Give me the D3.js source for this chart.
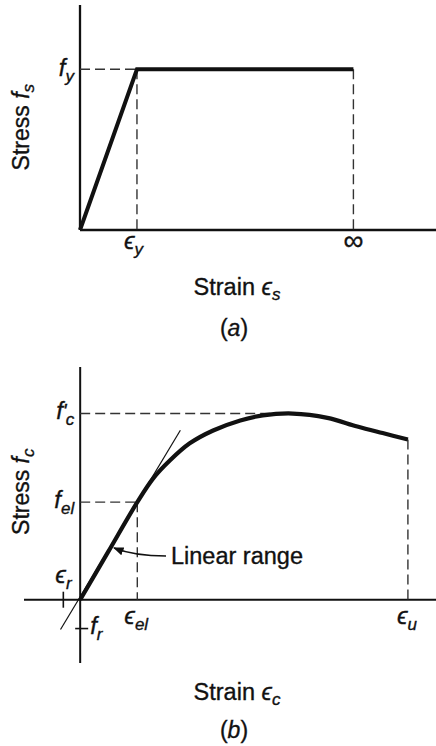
<!DOCTYPE html>
<html><head><meta charset="utf-8">
<script src="https://cdn.jsdelivr.net/npm/d3@7"></script>
<style>
html,body{margin:0;padding:0;background:#fff;}
svg{display:block;font-family:"Liberation Sans",Arial,Helvetica,sans-serif;}
text{stroke:#111;stroke-width:0.35px;}
</style></head>
<body>
<svg id="chart" width="436" height="746"></svg>
<script>
// ---------- Data (a): elastic-perfectly-plastic steel (stress normalized by fy, strain by εy) ----------
const steelStrain = [0, 1, 4.8];      // 0, εy, "∞"
const steelStress = [0, 1, 1];
const steelTickLabels = ["ϵ", "∞"];   // at εy and ∞
// ---------- Data (b): concrete (stress normalized by f'c, strain in ‰) ----------
const concStrain = [0, 0.3, 0.61, 0.78, 0.96, 1.17, 1.42, 1.71, 1.95, 2.27, 2.64, 2.96, 3.23, 3.5];
const concStress = [0, 0.258, 0.524, 0.652, 0.749, 0.840, 0.909, 0.963, 0.990, 1.0, 0.977, 0.930, 0.895, 0.861];
const tangentStrain = [-0.21, 1.07];
const tangentStress = [-0.16, 0.91];
const eEl = 0.61, fEl = 0.524, fcPeak = 1.0, eU = 3.5, eR = -0.18, fR = -0.155, eUStress = 0.861;

const svg = d3.select("#chart");
const ink = "#111";

function sub(textSel, main, subTxt) {
  textSel.append("tspan").text(main).attr("font-style", "italic");
  textSel.append("tspan").text(subTxt).attr("font-style", "italic")
    .attr("font-size", 17).attr("dy", 6);
}

// =================== Panel (a) ===================
const xa = d3.scaleLinear().domain([0, 6.25]).range([80, 436]);
const ya = d3.scaleLinear().domain([0, 1.4]).range([230, 5]);
const ga = svg.append("g");

ga.append("line").attr("x1", xa(0)).attr("x2", xa(0)).attr("y1", ya(1.4)).attr("y2", ya(0))
  .attr("stroke", ink).attr("stroke-width", 2.3);
ga.append("line").attr("x1", xa(0)).attr("x2", xa(6.25)).attr("y1", ya(0)).attr("y2", ya(0))
  .attr("stroke", ink).attr("stroke-width", 2.3);
const dashA = [
  [[0, steelStress[1]], [steelStrain[1], steelStress[1]]],
  [[steelStrain[1], steelStress[1]], [steelStrain[1], 0]],
  [[steelStrain[2], steelStress[2]], [steelStrain[2], 0]]
];
dashA.forEach(s => ga.append("line")
  .attr("x1", xa(s[0][0])).attr("y1", ya(s[0][1])).attr("x2", xa(s[1][0])).attr("y2", ya(s[1][1]))
  .attr("stroke", "#333").attr("stroke-width", 1.4).attr("stroke-dasharray", "10,5"));
ga.append("path")
  .datum(steelStrain.map((d, i) => [d, steelStress[i]]))
  .attr("d", d3.line().x(d => xa(d[0])).y(d => ya(d[1])))
  .attr("fill", "none").attr("stroke", ink).attr("stroke-width", 4).attr("stroke-linejoin", "miter");

ga.append("text").attr("transform", `translate(29,${ya(0.64)}) rotate(-90)`)
  .attr("text-anchor", "middle").attr("font-size", 23).attr("fill", ink)
  .call(t => { t.append("tspan").text("Stress "); t.append("tspan").text("f").attr("font-style", "italic");
    t.append("tspan").text("s").attr("font-style", "italic").attr("font-size", 17).attr("dy", 5); });
ga.append("text").attr("x", xa(0) - 6).attr("y", ya(1) + 7).attr("text-anchor", "end")
  .attr("font-size", 24).attr("fill", ink).call(t => sub(t, "f", "y"));
ga.append("text").attr("x", xa(steelStrain[1]) - 13).attr("y", ya(0) + 19)
  .attr("font-size", 24).attr("fill", ink).call(t => sub(t, steelTickLabels[0], "y"));
ga.append("text").attr("x", xa(steelStrain[2])).attr("y", ya(0) + 20).attr("text-anchor", "middle")
  .attr("font-size", 28).attr("fill", ink).text(steelTickLabels[1]);
ga.append("text").attr("x", 237).attr("y", 295).attr("text-anchor", "middle")
  .attr("font-size", 23.5).attr("fill", ink)
  .call(t => { t.append("tspan").text("Strain "); t.append("tspan").text("ϵ").attr("font-style", "italic");
    t.append("tspan").text("s").attr("font-style", "italic").attr("font-size", 17).attr("dy", 5); });
ga.append("text").attr("x", 234).attr("y", 336).attr("text-anchor", "middle")
  .attr("font-size", 23).attr("fill", ink)
  .call(t => { t.append("tspan").text("("); t.append("tspan").text("a").attr("font-style", "italic"); t.append("tspan").text(")"); });

// =================== Panel (b) ===================
const xb = d3.scaleLinear().domain([-0.6, 3.8]).range([24, 436]);
const yb = d3.scaleLinear().domain([-0.34, 1.25]).range([663, 367]);
const gb = svg.append("g");

gb.append("line").attr("x1", xb(0)).attr("x2", xb(0)).attr("y1", yb(1.25)).attr("y2", yb(-0.34))
  .attr("stroke", ink).attr("stroke-width", 2);
gb.append("line").attr("x1", xb(-0.6)).attr("x2", xb(3.8)).attr("y1", yb(0)).attr("y2", yb(0))
  .attr("stroke", ink).attr("stroke-width", 2);
gb.append("line").attr("x1", xb(eR)).attr("x2", xb(eR)).attr("y1", yb(0) - 8).attr("y2", yb(0) + 8)
  .attr("stroke", ink).attr("stroke-width", 1.6);
gb.append("line").attr("x1", xb(0) - 5).attr("x2", xb(0) + 8).attr("y1", yb(fR)).attr("y2", yb(fR))
  .attr("stroke", ink).attr("stroke-width", 1.6);

const dashB = [
  [[0, fcPeak], [concStrain[9], fcPeak]],
  [[0, fEl], [eEl, fEl]],
  [[eEl, fEl], [eEl, 0]],
  [[eU, eUStress], [eU, 0]]
];
dashB.forEach(s => gb.append("line")
  .attr("x1", xb(s[0][0])).attr("y1", yb(s[0][1])).attr("x2", xb(s[1][0])).attr("y2", yb(s[1][1]))
  .attr("stroke", "#333").attr("stroke-width", 1.4).attr("stroke-dasharray", "10,5"));

gb.append("line").attr("x1", xb(tangentStrain[0])).attr("y1", yb(tangentStress[0]))
  .attr("x2", xb(tangentStrain[1])).attr("y2", yb(tangentStress[1]))
  .attr("stroke", ink).attr("stroke-width", 1.2);
gb.append("path")
  .datum(concStrain.map((d, i) => [d, concStress[i]]))
  .attr("d", d3.line().x(d => xb(d[0])).y(d => yb(d[1])).curve(d3.curveCatmullRom.alpha(0.5)))
  .attr("fill", "none").attr("stroke", ink).attr("stroke-width", 4.2).attr("stroke-linecap", "butt");

svg.append("defs").append("marker").attr("id", "ah").attr("viewBox", "0 0 10 10")
  .attr("refX", 9).attr("refY", 5).attr("markerWidth", 7).attr("markerHeight", 7).attr("orient", "auto")
  .append("path").attr("d", "M0,1 L10,5 L0,9 Z").attr("fill", ink);
gb.append("path").attr("d", "M166,556 C150,556 132,555 114,548")
  .attr("fill", "none").attr("stroke", ink).attr("stroke-width", 1.5).attr("marker-end", "url(#ah)");
gb.append("text").attr("x", 171).attr("y", 564).attr("font-size", 23.5).attr("fill", ink).text("Linear range");

gb.append("text").attr("transform", `translate(29,${yb(0.58)}) rotate(-90)`)
  .attr("text-anchor", "middle").attr("font-size", 23).attr("fill", ink)
  .call(t => { t.append("tspan").text("Stress "); t.append("tspan").text("f").attr("font-style", "italic");
    t.append("tspan").text("c").attr("font-style", "italic").attr("font-size", 17).attr("dy", 5); });
// f'c label
gb.append("text").attr("x", xb(0) - 6).attr("y", yb(fcPeak) + 5).attr("text-anchor", "end")
  .attr("font-size", 24).attr("fill", ink)
  .call(t => {
    t.append("tspan").text("f").attr("font-style", "italic");
    t.append("tspan").text("'").attr("font-style", "italic").attr("font-size", 20).attr("dy", -1);
    t.append("tspan").text("c").attr("font-style", "italic").attr("font-size", 17).attr("dx", -1).attr("dy", 7);
  });
gb.append("text").attr("x", xb(0) - 6).attr("y", yb(fEl) + 6).attr("text-anchor", "end")
  .attr("font-size", 24).attr("fill", ink).call(t => sub(t, "f", "el"));
gb.append("text").attr("x", xb(eR) - 8).attr("y", yb(0) - 17)
  .attr("font-size", 24).attr("fill", ink).call(t => sub(t, "ϵ", "r"));
gb.append("text").attr("x", xb(0) + 10).attr("y", yb(fR) + 5)
  .attr("font-size", 24).attr("fill", ink).call(t => sub(t, "f", "r"));
gb.append("text").attr("x", xb(eEl) - 13).attr("y", yb(0) + 24)
  .attr("font-size", 24).attr("fill", ink).call(t => sub(t, "ϵ", "el"));
gb.append("text").attr("x", xb(eU) - 11).attr("y", yb(0) + 24)
  .attr("font-size", 24).attr("fill", ink).call(t => sub(t, "ϵ", "u"));
gb.append("text").attr("x", 237).attr("y", 700).attr("text-anchor", "middle")
  .attr("font-size", 23.5).attr("fill", ink)
  .call(t => { t.append("tspan").text("Strain "); t.append("tspan").text("ϵ").attr("font-style", "italic");
    t.append("tspan").text("c").attr("font-style", "italic").attr("font-size", 17).attr("dy", 5); });
gb.append("text").attr("x", 234).attr("y", 738).attr("text-anchor", "middle")
  .attr("font-size", 23).attr("fill", ink)
  .call(t => { t.append("tspan").text("("); t.append("tspan").text("b").attr("font-style", "italic"); t.append("tspan").text(")"); });
</script>
</body></html>
